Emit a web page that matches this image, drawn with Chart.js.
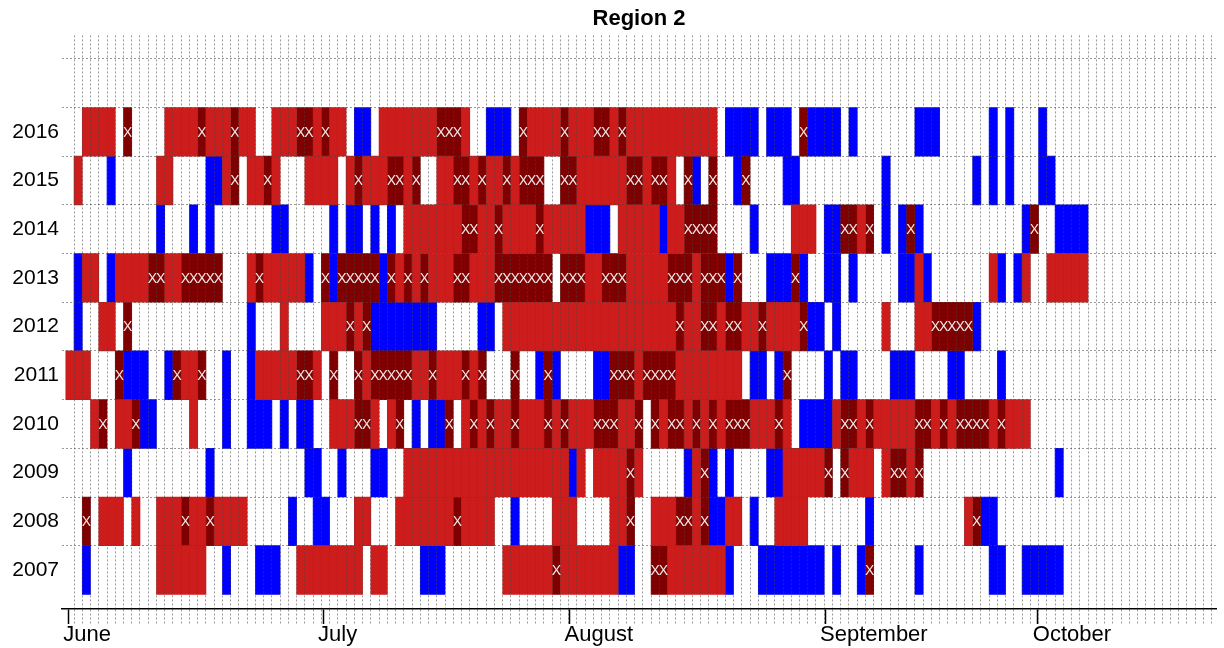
<!DOCTYPE html>
<html>
<head>
<meta charset="utf-8">
<title>Region 2</title>
<script src="https://cdn.jsdelivr.net/npm/chart.js@4.4.1/dist/chart.umd.min.js"></script>
<style>
  html, body { margin: 0; padding: 0; background: #ffffff; }
  #wrap { width: 1224px; height: 648px; }
</style>
</head>
<body>
<div id="wrap"><canvas id="chart"></canvas></div>
<script>
// Seasons, bottom row first
const years = ['2007', '2008', '2009', '2010', '2011', '2012', '2013', '2014', '2015', '2016'];

// Day 0 = 1 June. Each span is [first day, last day, kind]
// kind: R = red day, D = dark red day (marked X), B = blue day; unlisted days are blank
const y2007 = [[2,2,'B'],[11,16,'R'],[19,19,'B'],[23,25,'B'],[28,35,'R'],[37,38,'R'],[43,45,'B'],[53,58,'R'],[59,59,'D'],[60,66,'R'],[67,68,'B'],[71,72,'D'],[73,79,'R'],[80,80,'B'],[84,91,'B'],[93,93,'B'],[96,96,'B'],[97,97,'D'],[103,103,'B'],[112,113,'B'],[116,120,'B']];
const y2008 = [[2,2,'D'],[4,6,'R'],[8,8,'R'],[11,13,'R'],[14,14,'D'],[15,16,'R'],[17,17,'D'],[18,21,'R'],[27,27,'B'],[30,31,'B'],[35,36,'R'],[40,46,'R'],[47,47,'D'],[48,51,'R'],[54,54,'B'],[59,61,'R'],[66,67,'R'],[68,68,'D'],[71,73,'R'],[74,75,'D'],[76,76,'R'],[77,77,'D'],[78,79,'B'],[80,81,'R'],[83,83,'B'],[86,89,'R'],[97,97,'B'],[109,109,'R'],[110,110,'D'],[111,112,'B']];
const y2009 = [[7,7,'B'],[17,17,'B'],[29,30,'B'],[33,33,'B'],[37,38,'B'],[41,60,'R'],[61,61,'B'],[62,62,'R'],[64,67,'R'],[68,68,'D'],[69,69,'R'],[75,75,'B'],[76,76,'R'],[77,77,'D'],[78,78,'B'],[80,80,'B'],[85,86,'B'],[87,91,'R'],[92,92,'D'],[94,94,'D'],[95,97,'R'],[99,99,'R'],[100,101,'D'],[102,102,'R'],[103,103,'D'],[120,120,'B']];
const y2010 = [[3,3,'R'],[4,4,'D'],[6,7,'R'],[8,8,'D'],[9,10,'B'],[15,15,'R'],[19,19,'B'],[22,24,'B'],[26,26,'B'],[28,29,'B'],[32,34,'R'],[35,36,'D'],[37,37,'R'],[39,39,'R'],[40,40,'D'],[42,42,'B'],[44,45,'B'],[46,46,'D'],[48,48,'R'],[49,49,'D'],[50,50,'R'],[51,51,'D'],[52,53,'R'],[54,54,'D'],[55,57,'R'],[58,58,'D'],[59,59,'R'],[60,60,'D'],[61,63,'R'],[64,66,'D'],[67,68,'R'],[69,69,'D'],[71,71,'D'],[72,72,'R'],[73,74,'D'],[75,75,'R'],[76,76,'D'],[77,77,'R'],[78,78,'D'],[79,79,'R'],[80,82,'D'],[83,85,'R'],[86,86,'D'],[87,87,'R'],[89,92,'B'],[93,93,'R'],[94,95,'D'],[96,96,'R'],[97,97,'D'],[98,102,'R'],[103,104,'D'],[105,105,'R'],[106,106,'D'],[107,107,'R'],[108,111,'D'],[112,112,'R'],[113,113,'D'],[114,116,'R']];
const y2011 = [[0,2,'R'],[6,6,'D'],[7,9,'B'],[12,12,'B'],[13,13,'D'],[14,15,'R'],[16,16,'D'],[19,19,'B'],[22,22,'B'],[23,27,'R'],[28,29,'D'],[30,30,'R'],[32,32,'D'],[35,35,'D'],[36,36,'R'],[37,41,'D'],[42,43,'R'],[44,44,'D'],[45,47,'R'],[48,48,'D'],[49,49,'R'],[50,50,'D'],[54,54,'D'],[57,57,'B'],[58,58,'D'],[59,59,'B'],[64,65,'B'],[66,68,'D'],[69,69,'R'],[70,73,'D'],[74,81,'R'],[83,84,'B'],[86,86,'B'],[87,87,'D'],[92,92,'B'],[94,95,'B'],[100,102,'B'],[107,108,'B'],[113,113,'B']];
const y2012 = [[1,1,'B'],[4,5,'R'],[7,7,'D'],[22,22,'B'],[26,26,'R'],[31,33,'R'],[34,34,'D'],[35,35,'R'],[36,36,'D'],[37,44,'B'],[50,51,'B'],[53,73,'R'],[74,74,'D'],[75,76,'R'],[77,78,'D'],[79,79,'R'],[80,81,'D'],[82,83,'R'],[84,84,'D'],[85,88,'R'],[89,89,'D'],[90,91,'B'],[93,93,'B'],[99,99,'R'],[103,104,'R'],[105,109,'D'],[110,110,'B']];
const y2013 = [[1,1,'B'],[2,3,'R'],[5,5,'B'],[6,9,'R'],[10,11,'D'],[12,13,'R'],[14,18,'D'],[22,22,'R'],[23,23,'D'],[24,28,'R'],[29,29,'B'],[31,31,'D'],[32,32,'B'],[33,37,'D'],[38,38,'B'],[39,39,'D'],[40,40,'R'],[41,41,'D'],[42,42,'R'],[43,43,'D'],[44,46,'R'],[47,48,'D'],[49,51,'R'],[52,58,'D'],[60,62,'D'],[63,64,'R'],[65,67,'D'],[68,72,'R'],[73,75,'D'],[76,76,'R'],[77,79,'D'],[80,80,'B'],[81,81,'D'],[85,87,'B'],[88,88,'D'],[89,89,'B'],[92,93,'B'],[95,95,'B'],[101,102,'B'],[103,103,'R'],[104,104,'B'],[112,112,'R'],[113,113,'B'],[115,115,'B'],[116,116,'R'],[119,123,'R']];
const y2014 = [[11,11,'B'],[15,15,'B'],[17,17,'B'],[25,26,'B'],[32,32,'B'],[34,35,'B'],[37,37,'B'],[39,39,'B'],[41,47,'R'],[48,49,'D'],[50,51,'R'],[52,52,'D'],[53,56,'R'],[57,57,'D'],[58,62,'R'],[63,65,'B'],[67,71,'R'],[72,72,'B'],[73,74,'R'],[75,78,'D'],[83,83,'B'],[88,90,'R'],[92,93,'B'],[94,95,'D'],[96,96,'R'],[97,97,'D'],[99,99,'B'],[101,101,'B'],[102,102,'D'],[103,103,'B'],[116,116,'B'],[117,117,'D'],[120,123,'B']];
const y2015 = [[1,1,'R'],[5,5,'B'],[11,12,'R'],[17,18,'B'],[19,19,'R'],[20,20,'D'],[22,23,'R'],[24,24,'D'],[25,25,'R'],[29,32,'R'],[34,34,'R'],[35,35,'D'],[36,38,'R'],[39,40,'D'],[41,41,'R'],[42,42,'D'],[45,46,'R'],[47,48,'D'],[49,49,'R'],[50,50,'D'],[51,52,'R'],[53,53,'D'],[54,54,'R'],[55,57,'D'],[60,61,'D'],[62,67,'R'],[68,69,'D'],[70,70,'R'],[71,72,'D'],[73,73,'R'],[75,75,'D'],[76,76,'B'],[78,78,'D'],[81,81,'B'],[82,82,'D'],[87,88,'B'],[99,99,'B'],[110,110,'B'],[112,112,'B'],[114,114,'B'],[118,119,'B']];
const y2016 = [[2,5,'R'],[7,7,'D'],[12,15,'R'],[16,16,'D'],[17,19,'R'],[20,20,'D'],[21,22,'R'],[25,27,'R'],[28,29,'D'],[30,30,'R'],[31,31,'D'],[32,33,'R'],[35,36,'B'],[38,44,'R'],[45,47,'D'],[48,48,'R'],[51,53,'B'],[55,55,'D'],[56,59,'R'],[60,60,'D'],[61,63,'R'],[64,65,'D'],[66,66,'R'],[67,67,'D'],[68,78,'R'],[80,83,'B'],[85,87,'B'],[89,89,'D'],[90,93,'B'],[95,95,'B'],[103,105,'B'],[112,112,'B'],[114,114,'B'],[118,118,'B']];

// Month tick labels and where they sit on the day axis
const monthLabels = ['June', 'July', 'August', 'September', 'October'];
const monthTickDays = [0.3, 31.2, 61.1, 92.1, 117.9];
const dayCount = 139;

const spansByYear = [y2007, y2008, y2009, y2010, y2011, y2012, y2013, y2014, y2015, y2016];

function spansOf(kind) {
  const out = [];
  spansByYear.forEach((spans, row) => {
    spans.forEach(([first, last, k]) => {
      if (k === kind) out.push({ x: [first, last + 1], y: row + 0.5 });
    });
  });
  return out;
}

const FONT = '"Liberation Sans", Arial, Helvetica, sans-serif';
const GRID = 'rgba(70,70,70,0.55)';
const Y_MIN = -0.3;
const Y_MAX = 11.48;

// White "X" on every dark red day
const dayMarks = {
  id: 'dayMarks',
  afterDatasetsDraw(chart) {
    const { ctx, scales: { x, y } } = chart;
    ctx.save();
    ctx.fillStyle = '#f6e8e8';
    ctx.font = '14px ' + FONT;
    ctx.textAlign = 'center';
    ctx.textBaseline = 'middle';
    spansByYear.forEach((spans, row) => {
      spans.forEach(([first, last, k]) => {
        if (k !== 'D') return;
        for (let d = first; d <= last; d++) {
          ctx.fillText('X', x.getPixelForValue(d + 0.5), y.getPixelForValue(row + 0.5) + 1);
        }
      });
    });
    ctx.restore();
  }
};

Chart.defaults.font.family = FONT;
Chart.defaults.color = '#000';

new Chart(document.getElementById('chart'), {
  type: 'bar',
  data: {
    datasets: [
      { label: 'red', data: spansOf('R'), backgroundColor: '#cc1c1c' },
      { label: 'dark red', data: spansOf('D'), backgroundColor: '#7e0000' },
      { label: 'blue', data: spansOf('B'), backgroundColor: '#0000ff' }
    ]
  },
  plugins: [dayMarks],
  options: {
    indexAxis: 'y',
    responsive: true,
    maintainAspectRatio: false,
    animation: false,
    layout: { padding: { left: 0, right: 8, top: 0, bottom: 0 } },
    datasets: {
      bar: { grouped: false, barPercentage: 1, categoryPercentage: 1, borderWidth: 0 }
    },
    plugins: {
      legend: { display: false },
      tooltip: { enabled: false },
      title: {
        display: true,
        text: 'Region 2',
        fullSize: false,
        color: '#000',
        font: { size: 22, weight: 'bold', family: FONT },
        padding: { top: 6, bottom: 3 }
      }
    },
    scales: {
      x: {
        type: 'linear',
        position: 'bottom',
        bounds: 'data',
        offset: false,
        min: -0.46,
        max: 139.52,
        afterBuildTicks(scale) {
          const t = [];
          for (let d = 1; d <= dayCount; d++) t.push({ value: d });
          monthTickDays.forEach((v, i) => t.push({ value: v, month: monthLabels[i] }));
          t.sort((a, b) => a.value - b.value);
          scale.ticks = t;
        },
        afterFit(scale) { scale.height = 39; },
        grid: {
          z: 1,
          offset: false,
          lineWidth: 1,
          tickLength: 15,
          color: c => (c.tick && c.tick.month) ? 'rgba(0,0,0,0)' : GRID,
          tickColor: c => (c.tick && c.tick.month) ? '#000' : GRID,
          tickWidth: c => (c.tick && c.tick.month) ? 1.5 : 1,
          tickBorderDash: c => (c.tick && c.tick.month) ? [] : [2, 2]
        },
        border: { display: true, color: '#000', width: 1.5, dash: [2, 2], z: 1 },
        ticks: {
          autoSkip: false,
          maxRotation: 0,
          minRotation: 0,
          align: 'start',
          labelOffset: -5,
          padding: -2,
          color: '#000',
          font: { size: 22, family: FONT },
          callback: (v, i, ticks) => ticks[i].month || ''
        }
      },
      y: {
        type: 'linear',
        position: 'left',
        bounds: 'data',
        offset: false,
        min: Y_MIN,
        max: Y_MAX,
        afterBuildTicks(scale) {
          scale.ticks = years.map((_, i) => ({ value: i + 0.5 }));
        },
        afterFit(scale) { scale.width = 62; },
        grid: { display: false, drawTicks: false, offset: false },
        border: { display: false },
        ticks: {
          padding: 3,
          color: '#000',
          font: { size: 21, family: FONT },
          callback: (v, i) => years[i]
        }
      },
      yGrid: {
        type: 'linear',
        position: 'right',
        bounds: 'data',
        offset: false,
        min: Y_MIN,
        max: Y_MAX,
        afterBuildTicks(scale) {
          const t = [];
          for (let r = 1; r <= years.length + 1; r++) t.push({ value: r });
          scale.ticks = t;
        },
        afterFit(scale) { scale.width = 0; },
        grid: { z: 1, offset: false, color: GRID, lineWidth: 1, drawTicks: false },
        border: { display: false, dash: [2, 2] },
        ticks: { display: false }
      }
    }
  }
});
</script>
</body>
</html>
